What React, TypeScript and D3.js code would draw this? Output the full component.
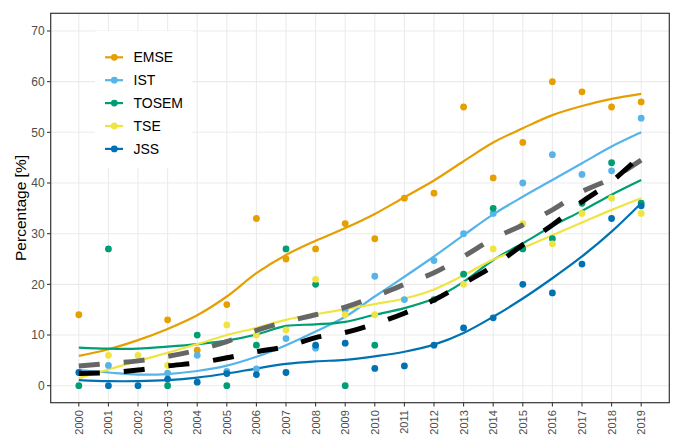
import React from "react";
import * as d3 from "d3";

const years = [2000, 2001, 2002, 2003, 2004, 2005, 2006, 2007, 2008, 2009, 2010, 2011, 2012, 2013, 2014, 2015, 2016, 2017, 2018, 2019];
const yTicks = [0, 10, 20, 30, 40, 50, 60, 70];
const seriesNames = ["EMSE", "IST", "TOSEM", "TSE", "JSS"];
const seriesColors = ["#E69F00", "#56B4E9", "#009E73", "#F0E442", "#0072B2"];

// observed points (null = not visible)
const emsePts = [14, null, null, 13, 7, 16, 33, 25, 27, 32, 29, 37, 38, 55, 41, 48, 60, 58, 55, 56];
const istPts = [null, 4, null, 2.5, 6, 2.8, 3.3, 9.3, 7.4, 15, 21.6, 17, 24.7, 30, 34, 40, 45.6, 41.7, 42.4, 52.8];
const tosemPts = [0, 27, null, 0, 10, 0, 8, 27, 20, 0, 8, null, 17, 22, 35, 27, 29, 36, 44, 36];
const tsePts = [null, 6, 6, 4, null, 12, 10, 11, 21, 14, 14, null, null, 20, 27, 32, 28, 34, 37, 34];
const jssPts = [2.6, 0, 0, 1.3, 0.7, 2.4, 2.2, 2.6, 8, 8.4, 3.4, 3.9, 8, 11.4, 13.4, 20, 18.3, 24, 33, 35.5];

// smoothed trends
const emseFit = [5.9, 7.2, 9.0, 11.2, 13.9, 17.6, 22.2, 25.8, 28.6, 31.1, 33.9, 37.2, 40.5, 44.3, 48.0, 50.8, 53.4, 55.2, 56.6, 57.6];
const istFit = [3.1, 2.6, 2.2, 2.3, 2.9, 3.95, 5.7, 8.0, 10.7, 13.6, 17.6, 21.5, 25.5, 29.7, 33.8, 37.3, 40.6, 43.9, 47.2, 50.0];
const tosemFit = [7.5, 7.3, 7.3, 7.7, 8.2, 8.9, 10.1, 11.8, 12.1, 12.6, 14.0, 15.3, 17.2, 20.5, 24.8, 28.1, 31.5, 34.5, 37.7, 40.6];
const tseFit = [1.5, 3.2, 4.9, 6.5, 8.2, 10.0, 11.4, 13.0, 14.1, 15.1, 16.1, 17.2, 19.0, 21.8, 24.9, 27.2, 29.7, 32.2, 34.7, 37.0];
const jssFit = [1.1, 0.9, 0.9, 1.1, 1.6, 2.4, 3.4, 4.3, 4.8, 5.1, 5.8, 6.7, 8.1, 10.4, 13.6, 17.2, 21.2, 25.5, 30.4, 36.0];
const grayFit = [3.9, 4.4, 4.9, 5.8, 7.0, 8.7, 10.9, 12.6, 14.0, 15.5, 17.6, 20.0, 22.3, 25.5, 29.0, 31.7, 34.7, 38.3, 40.9, 44.5];
const blackFit = [2.4, 2.6, 3.1, 3.9, 4.5, 5.5, 6.7, 7.7, 9.5, 10.5, 12.2, 14.3, 16.9, 20.2, 23.6, 27.8, 31.7, 36.3, 40.3, 45.5];

const allPts = [emsePts, istPts, tosemPts, tsePts, jssPts];
const allFits = [emseFit, istFit, tosemFit, tseFit, jssFit];

const W = 676, H = 435;
const P = { l: 50.7, r: 669.3, t: 13.3, b: 402.7 };
const FONT = "'Liberation Sans', Arial, Helvetica, sans-serif";

export default function App() {
  const x = d3.scaleLinear().domain([1999.05, 2019.95]).range([P.l, P.r]);
  const y = d3.scaleLinear().domain([-3.355, 73.49]).range([P.b, P.t]);
  const line = d3
    .line<number>()
    .x((_, i) => x(years[i]))
    .y((d) => y(d))
    .curve(d3.curveCatmullRom.alpha(0.5));

  return (
    <svg width={W} height={H} style={{ position: "absolute", left: 0, top: 0, background: "#fff" }} fontFamily={FONT}>
      <defs>
        <clipPath id="panel">
          <rect x={P.l} y={P.t} width={P.r - P.l} height={P.b - P.t} />
        </clipPath>
      </defs>
      <rect x={P.l} y={P.t} width={P.r - P.l} height={P.b - P.t} fill="#fff" />
      {yTicks.map((t) => (
        <line key={"gy" + t} x1={P.l} x2={P.r} y1={y(t)} y2={y(t)} stroke="#EBEBEB" strokeWidth={1.07} />
      ))}
      {years.map((yr) => (
        <line key={"gx" + yr} x1={x(yr)} x2={x(yr)} y1={P.t} y2={P.b} stroke="#EBEBEB" strokeWidth={1.07} />
      ))}
      <g clipPath="url(#panel)">
        {allFits.map((f, k) => (
          <path key={"f" + k} d={line(f) || ""} fill="none" stroke={seriesColors[k]} strokeWidth={2.2} />
        ))}
        {allPts.map((pts, k) =>
          pts.map((v, i) =>
            v === null ? null : (
              <circle key={"p" + k + "-" + i} cx={x(years[i])} cy={y(v)} r={3.4} fill={seriesColors[k]} />
            )
          )
        )}
        <path d={line(grayFit) || ""} fill="none" stroke="#666666" strokeWidth={5} strokeDasharray="21 24" />
        <path d={line(blackFit) || ""} fill="none" stroke="#000000" strokeWidth={5} strokeDasharray="21 24" />
      </g>
      {/* legend */}
      <rect x={95} y={31} width={97} height={137} fill="#fff" />
      {seriesNames.map((n, k) => {
        const ly = 57.3 + k * 22.9;
        return (
          <g key={"lg" + n}>
            <line x1={105} x2={123} y1={ly} y2={ly} stroke={seriesColors[k]} strokeWidth={2.2} />
            <circle cx={114.3} cy={ly} r={3.4} fill={seriesColors[k]} />
            <text x={133.5} y={ly} dy="0.36em" fontSize={14} fill="#000">{n}</text>
          </g>
        );
      })}
      <rect x={P.l} y={P.t} width={P.r - P.l} height={P.b - P.t} fill="none" stroke="#333333" strokeWidth={1.2} />
      {yTicks.map((t) => (
        <g key={"ty" + t}>
          <line x1={P.l - 3.7} x2={P.l} y1={y(t)} y2={y(t)} stroke="#333333" strokeWidth={1.07} />
          <text x={P.l - 6} y={y(t)} dy="0.36em" textAnchor="end" fontSize={12} fill="#4D4D4D">{t}</text>
        </g>
      ))}
      {years.map((yr) => (
        <g key={"tx" + yr}>
          <line x1={x(yr)} x2={x(yr)} y1={P.b} y2={P.b + 3.7} stroke="#333333" strokeWidth={1.07} />
          <text
            transform={`translate(${x(yr)},${P.b + 7.5}) rotate(-90)`}
            dy="0.36em"
            textAnchor="end"
            fontSize={11}
            fill="#4D4D4D"
          >
            {yr}
          </text>
        </g>
      ))}
      <text transform={`translate(20,${(P.t + P.b) / 2}) rotate(-90)`} dy="0.36em" textAnchor="middle" fontSize={15.5} fill="#000">
        Percentage [%]
      </text>
    </svg>
  );
}
